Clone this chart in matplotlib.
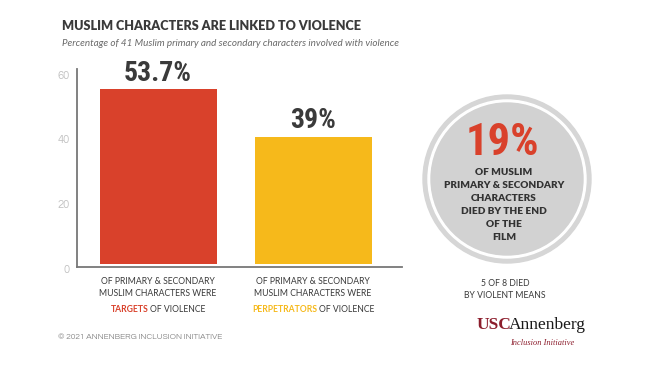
import matplotlib
matplotlib.use("Agg")
import matplotlib.pyplot as plt
import matplotlib.transforms as mtransforms
from matplotlib import font_manager
from matplotlib.patches import Circle

# data
bar_values = [53.7, 39]
bar_colors = ["#d9412b", "#f6b91b"]
bar_keywords = ["TARGETS", "PERPETRATORS"]
y_ticks = [0, 20, 40, 60]
died_pct = 19
died_violent = 5
died_total = 8

W, H = 650, 365
DARK = "#3a3a3a"

installed = {f.name for f in font_manager.fontManager.ttflist}


def pick(*names):
    for n in names:
        if n in installed:
            return n
    return "DejaVu Sans"


NARROW = pick("Roboto Condensed", "Barlow Condensed", "Archivo Narrow", "Oswald")
GOTHIC = pick("Questrial", "Didact Gothic", "Poppins", "Lato")
SANS = pick("Lato", "Open Sans")
SERIF = pick("Liberation Serif", "DejaVu Serif")

fig = plt.figure(figsize=(W / 100, H / 100), dpi=100)
fig.patch.set_facecolor("white")


def px(x, y):
    # pixel position (from top-left) -> figure fraction
    return x / W, 1 - y / H


def box(x0, y0, x1, y1):
    return [x0 / W, 1 - y1 / H, (x1 - x0) / W, (y1 - y0) / H]


# title + subtitle
fig.text(*px(62, 26), "MUSLIM CHARACTERS ARE LINKED TO VIOLENCE", fontsize=9.1,
         fontweight="heavy", family=SANS, color=DARK, va="center")
fig.text(*px(62, 43), "Percentage of 41 Muslim primary and secondary characters involved with violence",
         fontsize=7.1, style="italic", family=SANS, color="#6a6a6a", va="center")

# bar chart
ax = fig.add_axes(box(77, 69, 402, 267))
xs = range(len(bar_values))
ax.bar(xs, bar_values, width=0.755, color=bar_colors, zorder=2)
ax.set_xlim(-0.523, 1.574)
ax.set_ylim(-1, 60)
for side in ["top", "right"]:
    ax.spines[side].set_visible(False)
for side in ["left", "bottom"]:
    ax.spines[side].set_color("#777777")
    ax.spines[side].set_linewidth(1.3)
ax.set_xticks([])
ax.set_yticks(y_ticks)
ax.tick_params(axis="y", length=0, pad=5, labelsize=8, labelcolor="#c2c2c2")
shift = mtransforms.ScaledTranslation(0, -4 / 72, fig.dpi_scale_trans)
for lab in ax.get_yticklabels():
    lab.set_fontfamily(GOTHIC)
    lab.set_transform(lab.get_transform() + shift)

for i, v in enumerate(bar_values):
    ax.annotate(f"{v:g}%", (i, v), xytext=(0, 2), textcoords="offset points",
                ha="center", va="bottom", fontsize=20, fontweight="bold",
                family=NARROW, color=DARK)

fig.canvas.draw()
renderer = fig.canvas.get_renderer()


def mixed_line(cx, cy, parts, size):
    # parts: list of (text, color, weight); drawn centered at cx
    texts = []
    for s, c, w in parts:
        t = fig.text(0, 0, s, fontsize=size, color=c, fontweight=w,
                     family=SANS, va="center", ha="left")
        texts.append(t)
    widths = [t.get_window_extent(renderer).width for t in texts]
    gap = size * 0.3
    total = sum(widths) + gap * (len(texts) - 1)
    x = cx - total / 2
    for t, w in zip(texts, widths):
        t.set_position(px(x, cy))
        x += w + gap


# captions under the bars
for i, (kw, col) in enumerate(zip(bar_keywords, bar_colors)):
    cx = ax.transData.transform((i, 0))[0] * W / fig.bbox.width
    mixed_line(cx, 281, [("OF PRIMARY & SECONDARY", DARK, "normal")], 6.2)
    mixed_line(cx, 294, [("MUSLIM CHARACTERS WERE", DARK, "normal")], 6.2)
    mixed_line(cx, 309, [(kw, col, "bold"), ("OF VIOLENCE", DARK, "normal")], 6.2)

# circle callout
cx, cy, R = 507, 179, 86
cax = fig.add_axes(box(cx - R, cy - R, cx + R, cy + R))
cax.set_xlim(-R, R)
cax.set_ylim(-R, R)
cax.set_aspect("equal")
cax.axis("off")
cax.add_patch(Circle((0, 0), 84, color="#d6d6d6"))
cax.add_patch(Circle((0, 0), 79, color="white"))
cax.add_patch(Circle((0, 0), 76, color="#d2d2d2"))

fig.text(*px(502, 143), f"{died_pct}%", fontsize=32, fontweight="bold",
         family=NARROW, color="#d9412b", ha="center", va="center")
circle_lines = ["OF MUSLIM", "PRIMARY & SECONDARY", "CHARACTERS",
                "DIED BY THE END", "OF THE", "FILM"]
for k, line in enumerate(circle_lines):
    fig.text(*px(504, 172 + k * 13.2), line, fontsize=7.2, fontweight="heavy",
             family=SANS, color="#333333", ha="center", va="center")

fig.text(*px(505, 283), f"{died_violent} OF {died_total} DIED", fontsize=6.2,
         family=SANS, color=DARK, ha="center", va="center")
fig.text(*px(505, 295), "BY VIOLENT MEANS", fontsize=6.2,
         family=SANS, color=DARK, ha="center", va="center")

# footer
fig.text(*px(58, 337), "\u00a9 2021 ANNENBERG INCLUSION INITIATIVE", fontsize=6,
         family=GOTHIC, color="#8a8a8a", va="center")

# logo
usc = fig.text(*px(477, 325), "USC", fontsize=12.5, fontweight="bold", family=SERIF,
               color="#8c1d2c", va="center")
fig.canvas.draw()
ux = usc.get_window_extent(renderer).x1 - 3
fig.text(ux / fig.bbox.width, 1 - 325 / H, "Annenberg", fontsize=12.5,
         family=SERIF, color="#1a1a1a", va="center")
fig.text(*px(542, 343), "Inclusion Initiative", fontsize=6, style="italic",
         family=SERIF, color="#8c1d2c", ha="center", va="center")

fig.savefig("out.png", dpi=100)
